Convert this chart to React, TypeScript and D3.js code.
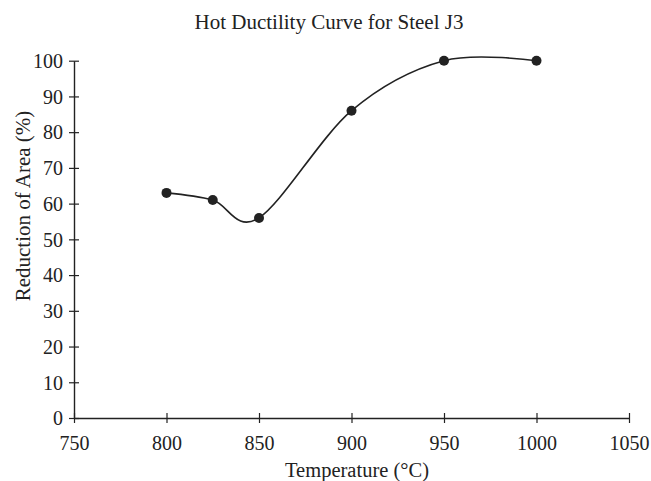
import React, { useEffect, useRef } from "react";
import * as d3 from "d3";

// Data
const temperatures = [800, 825, 850, 900, 950, 1000];
const reductionOfArea = [63, 61, 56, 86, 100, 100];
const xTicks = [750, 800, 850, 900, 950, 1000, 1050];
const yTicks = [0, 10, 20, 30, 40, 50, 60, 70, 80, 90, 100];

const WIDTH = 651;
const HEIGHT = 481;
const FONT = "'Liberation Serif', 'Times New Roman', serif";

const App = () => {
  const ref = useRef<SVGSVGElement | null>(null);

  useEffect(() => {
    const svg = d3.select(ref.current);
    svg.selectAll("*").remove();

    const x = d3.scaleLinear().domain([750, 1050]).range([74, 629]);
    const y = d3.scaleLinear().domain([0, 100]).range([418, 60.7]);

    const ink = "#222";

    // title
    svg
      .append("text")
      .attr("x", 329)
      .attr("y", 28.5)
      .attr("text-anchor", "middle")
      .attr("font-family", FONT)
      .attr("font-size", 21)
      .attr("fill", ink)
      .text("Hot Ductility Curve for Steel J3");

    // x axis
    const xAxis = svg
      .append("g")
      .attr("transform", `translate(0, ${y(0)})`)
      .call(d3.axisBottom(x).tickValues(xTicks).tickFormat(d3.format("d")).tickSizeOuter(0));
    xAxis.select(".domain").attr("stroke", ink).attr("stroke-width", 1.4);
    xAxis.selectAll(".tick line").attr("y1", -5).attr("y2", 5).attr("stroke", ink).attr("stroke-width", 1.2);
    xAxis
      .selectAll(".tick text")
      .attr("y", 32)
      .attr("dy", null)
      .attr("font-family", FONT)
      .attr("font-size", 20)
      .attr("fill", ink);

    // y axis
    const yAxis = svg
      .append("g")
      .attr("transform", `translate(${x(750)}, 0)`)
      .call(d3.axisLeft(y).tickValues(yTicks).tickSizeOuter(0));
    yAxis.select(".domain").attr("stroke", ink).attr("stroke-width", 1.4);
    yAxis.selectAll(".tick line").attr("x1", -5).attr("x2", 5).attr("stroke", ink).attr("stroke-width", 1.2);
    yAxis
      .selectAll(".tick text")
      .attr("x", -11)
      .attr("dy", "0.34em")
      .attr("font-family", FONT)
      .attr("font-size", 20)
      .attr("fill", ink);

    // axis titles
    svg
      .append("text")
      .attr("x", 357)
      .attr("y", 477)
      .attr("text-anchor", "middle")
      .attr("font-family", FONT)
      .attr("font-size", 20.5)
      .attr("fill", ink)
      .text("Temperature (°C)");

    svg
      .append("text")
      .attr("transform", `translate(30, 206) rotate(-90)`)
      .attr("text-anchor", "middle")
      .attr("font-family", FONT)
      .attr("font-size", 21)
      .attr("fill", ink)
      .text("Reduction of Area (%)");

    // smoothed line + markers
    const points = temperatures.map((t, i) => [t, reductionOfArea[i]] as [number, number]);

    const line = d3
      .line<[number, number]>()
      .x((d) => x(d[0]))
      .y((d) => y(d[1]))
      .curve(d3.curveCardinal.tension(0));

    svg
      .append("path")
      .datum(points)
      .attr("d", line)
      .attr("fill", "none")
      .attr("stroke", ink)
      .attr("stroke-width", 1.6);

    svg
      .selectAll(".dot")
      .data(points)
      .enter()
      .append("circle")
      .attr("class", "dot")
      .attr("cx", (d) => x(d[0]))
      .attr("cy", (d) => y(d[1]))
      .attr("r", 5)
      .attr("fill", ink);
  }, []);

  return (
    <svg
      ref={ref}
      width={WIDTH}
      height={HEIGHT}
      style={{ position: "absolute", left: 0, top: 0, background: "#fff" }}
    ></svg>
  );
};

export default App;
